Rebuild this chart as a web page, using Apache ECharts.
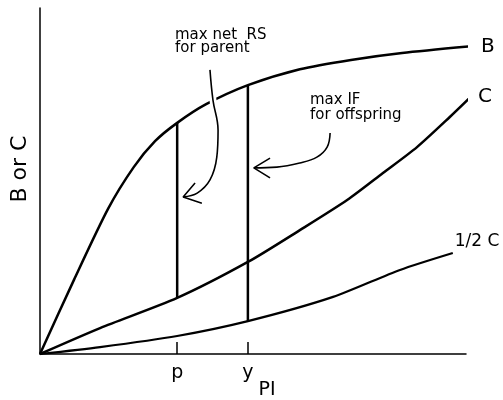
<!DOCTYPE html>
<html lang="en">
<head>
    <meta charset="UTF-8">
    <title>B or C against PI</title>
    <style>
        html, body {
            margin: 0;
            padding: 0;
            background: #fff;
        }
        #main {
            width: 503px;
            height: 400px;
        }
    </style>
    <script type="text/javascript" src="https://cdn.jsdelivr.net/npm/echarts@6/dist/echarts.min.js"></script>
</head>
<body>
<div id="main"></div>
<script type="text/javascript">
    // curves, x and y in 0..100 units
    var bCurve = [[0,0],[8,21.5],[16,42],[22,54],[27,61.5],[32.2,66.8],[39,72.2],[48.8,77.7],
        [61,82.3],[73,85.0],[85,87.0],[101.6,89.0]];
    var cCurve = [[0,0],[14.1,7.5],[32.2,16.2],[48.8,26.6],[61.0,35.8],[72.1,44.5],[80.5,52.3],
        [88.5,59.8],[96.2,68.5],[101.6,74.9]];
    var halfCCurve = [[0,0],[14.1,2.0],[32.2,5.2],[48.8,9.5],[68.8,16.5],[84.5,24.3],[96.9,29.2]];

    // marked points on the x axis
    var xMarks = [32.2, 48.8];
    var xMarkLabels = ['p', 'y'];

    // vertical drops: at p from B to C, at y from B to 1/2 C
    var pLine = [[32.2,66.8],[32.2,16.2]];
    var yLine = [[48.8,77.7],[48.8,9.5]];

    // annotation arrows
    var arrow1 = [[39.9,82.1],[40.6,73.4],[41.8,64.7],[41.5,56.9],[39.9,50.3],[36.9,46.5],[33.6,45.4]];
    var arrow1Head = [[36.4,49.4],[33.6,45.4],[38.0,43.6]];
    var arrow2 = [[68.1,63.9],[67.4,59.8],[65.0,56.9],[61.0,55.2],[55.6,54.0],[50.2,53.8]];
    var arrow2Head = [[54.0,56.6],[50.2,53.8],[54.0,50.9]];

    var font = 'DejaVu Sans';

    function curve(name, data, width, label) {
        return {
            name: name,
            type: 'line',
            data: data,
            smooth: 0.25,
            symbol: 'none',
            clip: false,
            lineStyle: {color: '#000', width: width},
            endLabel: label
        };
    }

    var chart = echarts.init(document.getElementById('main'));
    var option = {
        animation: false,
        backgroundColor: '#fff',
        grid: {left: 40, right: 37, top: 8, bottom: 46, outerBoundsMode: 'none', containLabel: false},
        xAxis: {
            type: 'value',
            min: 0,
            max: 100,
            name: 'PI',
            nameLocation: 'middle',
            nameGap: 27,
            nameMoveOverlap: false,
            nameTextStyle: {fontFamily: font, fontSize: 19, color: '#000', padding: [0, 0, 0, 28]},
            splitLine: {show: false},
            axisLine: {lineStyle: {color: '#000', width: 1.5}},
            axisTick: {show: true, inside: true, length: 12, customValues: xMarks,
                lineStyle: {color: '#000', width: 1.5}},
            axisLabel: {
                customValues: xMarks,
                margin: 10,
                fontFamily: font,
                fontSize: 19,
                color: '#000',
                formatter: function (v) {
                    var i = xMarks.indexOf(v);
                    return i < 0 ? '' : xMarkLabels[i];
                }
            }
        },
        yAxis: {
            type: 'value',
            min: 0,
            max: 100,
            name: 'B or C',
            nameLocation: 'middle',
            nameRotate: 90,
            nameGap: 9,
            nameMoveOverlap: false,
            nameTextStyle: {fontFamily: font, fontSize: 22, color: '#000', padding: [0, 0, 0, 24]},
            splitLine: {show: false},
            axisLine: {show: true, lineStyle: {color: '#000', width: 1.5}},
            axisTick: {show: false},
            axisLabel: {show: false}
        },
        graphic: [{
            type: 'text',
            left: 175,
            top: 28,
            style: {text: 'max net  RS\nfor parent', font: '15px "DejaVu Sans"', lineHeight: 13, fill: '#000'}
        }, {
            type: 'text',
            left: 310,
            top: 93,
            style: {text: 'max IF\nfor offspring', font: '15px "DejaVu Sans"', lineHeight: 15, fill: '#000'}
        }],
        series: [
            curve('B', bCurve, 2.5, {show: true, formatter: 'B', distance: 13,
                fontFamily: font, fontSize: 20, color: '#000'}),
            curve('C', cCurve, 2.5, {show: true, formatter: 'C', distance: 10,
                fontFamily: font, fontSize: 20, color: '#000', offset: [0, -3]}),
            curve('1/2 C', halfCCurve, 2.2, {show: true, formatter: '1/2 C', distance: 2,
                fontFamily: font, fontSize: 17, color: '#000', offset: [0, -11]}),
            {type: 'line', data: pLine, symbol: 'none', lineStyle: {color: '#000', width: 2.5}},
            {type: 'line', data: yLine, symbol: 'none', lineStyle: {color: '#000', width: 2.5}},
            // white halo so arrow cuts through curve B as in the drawing
            {type: 'line', data: arrow1.slice(0, 3), smooth: 0.3, symbol: 'none',
                lineStyle: {color: '#fff', width: 7}},
            {type: 'line', data: arrow1, smooth: 0.4, symbol: 'none', lineStyle: {color: '#000', width: 1.6}},
            {type: 'line', data: arrow1Head, symbol: 'none', lineStyle: {color: '#000', width: 1.6}},
            {type: 'line', data: arrow2, smooth: 0.4, symbol: 'none', lineStyle: {color: '#000', width: 1.6}},
            {type: 'line', data: arrow2Head, symbol: 'none', lineStyle: {color: '#000', width: 1.6}}
        ]
    };
    chart.setOption(option);
</script>
</body>
</html>
